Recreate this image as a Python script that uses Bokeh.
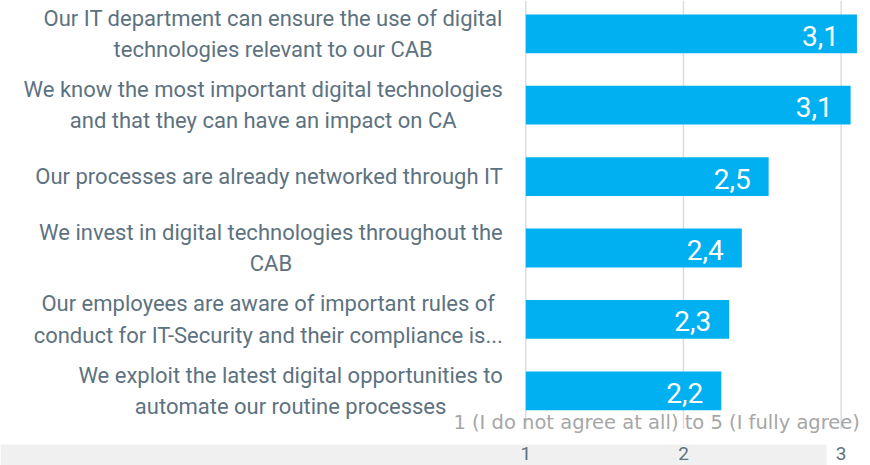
from bokeh.plotting import figure
from bokeh.models import Range1d, BoxAnnotation, Label, ColumnDataSource
from bokeh.core.properties import value
from bokeh.embed import file_html
from bokeh.resources import INLINE

# ---------------- data ----------------
categories = [
    "Our IT department can ensure the use of digital\ntechnologies relevant to our CAB",
    "We know the most important digital technologies\nand that they can have an impact on CA",
    "Our processes are already networked through IT",
    "We invest in digital technologies throughout the\nCAB",
    "Our employees are aware of important rules of\nconduct for IT-Security and their compliance is...",
    "We exploit the latest digital opportunities to\nautomate our routine processes",
]
values = [3.10, 3.06, 2.54, 2.37, 2.29, 2.24]
x_ticks = [1, 2, 3]
x_tick_labels = ["1", "2", "3"]
axis_title = "1 (I do not agree at all) to 5 (I fully agree)"
baseline = 1

# ---------------- styles / layout ----------------
BAR_COLOR = "#00b0f0"
LABEL_COLOR = "#5d7280"
GRID_COLOR = "#d8dfe4"
TITLE_COLOR = "#a6a6a6"
BAND_COLOR = "#f0f0f0"
FONT = "Roboto"

W, H = 870, 465
X_RANGE = (-2.331, 3.186)
Y_RANGE = (6.046, -0.466)      # category 0 on top
GRID_BOTTOM_PAD = 0.53
TICK_LABEL_PAD = 0.88
TITLE_POS = (1.83, 5.45)

idx = list(range(len(categories)))
value_text = [f"{v:.1f}".replace(".", ",") for v in values]

src = ColumnDataSource(dict(y=idx, v=values, cat=categories, vt=value_text,
                            base=[baseline] * len(idx)))

p = figure(width=W, height=H, x_range=Range1d(*X_RANGE), y_range=Range1d(*Y_RANGE),
           output_backend="svg", toolbar_location=None,
           x_axis_location=None, y_axis_location=None, min_border=0)
p.outline_line_color = None
p.grid.visible = False
p.background_fill_color = "white"
p.border_fill_color = "white"

# grey band at the bottom (screen units measured from the bottom edge)
band = BoxAnnotation(left=0, right=826, top=21, bottom=0,
                     left_units="screen", right_units="screen",
                     top_units="screen", bottom_units="screen",
                     fill_color=BAND_COLOR, fill_alpha=1, line_color=None,
                     level="underlay")
p.add_layout(band)

# vertical gridlines at the ticks
last = len(categories) - 1
p.segment(x0=x_ticks, x1=x_ticks, y0=[Y_RANGE[1]] * len(x_ticks),
          y1=[last + GRID_BOTTOM_PAD] * len(x_ticks),
          line_color=GRID_COLOR, line_width=1.5)

# bars
p.hbar(y="y", left="base", right="v", height=0.543, source=src,
       fill_color=BAR_COLOR, line_color=None)

# value labels
p.text(x="v", y="y", text="vt", source=src, x_offset=-18, y_offset=2,
       text_align="right", text_baseline="middle", text_color="white",
       text_font=value(FONT), text_font_size="28px")

# category labels
p.text(x="base", y="y", text="cat", source=src, x_offset=-23,
       anchor=value("center_right"), text_align="center", text_baseline="middle",
       text_color=LABEL_COLOR, text_font=value(FONT), text_font_size="22px",
       text_line_height=1.25)

# x tick labels
p.text(x=x_ticks, y=[last + TICK_LABEL_PAD] * len(x_ticks), text=x_tick_labels,
       text_align="center", text_baseline="middle", text_color=LABEL_COLOR,
       text_font=value(FONT), text_font_size="19px")

# axis title
p.add_layout(Label(x=TITLE_POS[0], y=TITLE_POS[1], text=axis_title,
                   text_align="center", text_baseline="middle",
                   text_color=TITLE_COLOR, text_font="DejaVu Sans",
                   text_font_size="19.5px"))

open("out.html", "w").write(file_html(p, INLINE))
